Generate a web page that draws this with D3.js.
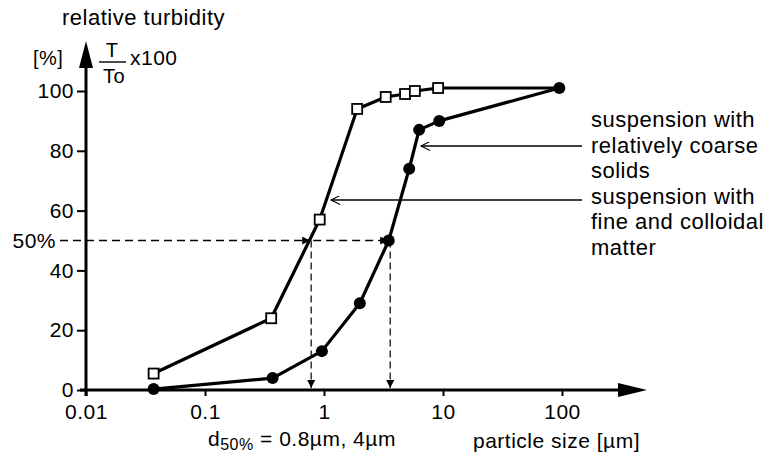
<!DOCTYPE html>
<html>
<head>
<meta charset="utf-8">
<script src="https://cdn.jsdelivr.net/npm/d3@7"></script>
<style>
  body { margin: 0; background: #fff; }
  svg { display: block; font-family: "Liberation Sans", Arial, Helvetica, sans-serif; }
  text { fill: #000; letter-spacing: 0.5px; }
</style>
</head>
<body>
<svg width="771" height="457"></svg>
<script>
// particle size [um] -> relative turbidity [%]
var fineSize = [0.037, 0.36, 0.92, 1.9, 3.3, 4.8, 5.8, 9.1, 95];
var fineTurb = [5.5, 24, 57, 94, 98, 99, 100, 101, 101];

var coarseSize = [0.037, 0.37, 0.96, 2.0, 3.5, 5.2, 6.3, 9.3, 95];
var coarseTurb = [0.3, 4, 13, 29, 50, 74, 87, 90, 101];

var xTicks = [0.01, 0.1, 1, 10, 100];
var xTickLabels = ["0.01", "0.1", "1", "10", "100"];
var yTicks = [0, 20, 40, 60, 80, 100];

var d50Level = 50;
var d50Sizes = [0.78, 3.6];

var svg = d3.select("svg");

var x = d3.scaleLog()
    .domain([0.01, 100])
    .range([86, 562]);

var y = d3.scaleLinear()
    .domain([0, 100])
    .range([390, 91]);

var defs = svg.append("defs");
defs.append("marker")
    .attr("id", "headFill")
    .attr("viewBox", "0 0 10 10")
    .attr("refX", 10).attr("refY", 5)
    .attr("markerWidth", 12).attr("markerHeight", 8)
    .attr("markerUnits", "userSpaceOnUse")
    .attr("orient", "auto")
  .append("path")
    .attr("d", "M0,0L10,5L0,10Z")
    .attr("fill", "#000");
defs.append("marker")
    .attr("id", "headOpen")
    .attr("viewBox", "0 0 10 10")
    .attr("refX", 10).attr("refY", 5)
    .attr("markerWidth", 16).attr("markerHeight", 9)
    .attr("markerUnits", "userSpaceOnUse")
    .attr("orient", "auto")
  .append("path")
    .attr("d", "M0,0L10,5L0,10")
    .attr("fill", "none")
    .attr("stroke", "#000")
    .attr("stroke-width", 1.2);

// axes
var xAxis = svg.append("g")
    .attr("transform", "translate(0," + y(0) + ")")
    .call(d3.axisBottom(x)
      .tickValues(xTicks)
      .tickSize(6)
      .tickPadding(8)
      .tickFormat(function(d, i) { return xTickLabels[i]; }));
xAxis.select(".domain").remove();
xAxis.selectAll("line").attr("stroke-width", 2);
xAxis.selectAll("text")
    .attr("font-size", 21)
    .attr("font-family", "Liberation Sans, Arial, sans-serif");

var yAxis = svg.append("g")
    .attr("transform", "translate(" + x(0.01) + ",0)")
    .call(d3.axisLeft(y)
      .tickValues(yTicks)
      .tickSize(9)
      .tickPadding(3));
yAxis.select(".domain").remove();
yAxis.selectAll("line").attr("stroke-width", 2);
yAxis.selectAll("text")
    .attr("font-size", 21)
    .attr("font-family", "Liberation Sans, Arial, sans-serif");

// axis lines with arrow tips
svg.append("line")
    .attr("x1", x(0.01) - 6).attr("x2", 622)
    .attr("y1", y(0)).attr("y2", y(0))
    .attr("stroke", "#000").attr("stroke-width", 3);
svg.append("path")
    .attr("d", "M618," + (y(0) - 7) + "L647," + y(0) + "L618," + (y(0) + 7) + "Z")
    .attr("fill", "#000");

svg.append("line")
    .attr("x1", x(0.01)).attr("x2", x(0.01))
    .attr("y1", y(0) + 6).attr("y2", 66)
    .attr("stroke", "#000").attr("stroke-width", 3);
svg.append("path")
    .attr("d", "M" + (x(0.01) - 7) + ",68L" + x(0.01) + ",41L" + (x(0.01) + 7) + ",68Z")
    .attr("fill", "#000");

// d50 guide lines
svg.append("text")
    .attr("x", 56).attr("y", y(d50Level))
    .attr("dy", "0.35em")
    .attr("text-anchor", "end")
    .attr("font-size", 21)
    .text("50%");

svg.append("line")
    .attr("x1", 60).attr("x2", x(d50Sizes[0]) - 1)
    .attr("y1", y(d50Level)).attr("y2", y(d50Level))
    .attr("stroke", "#000").attr("stroke-width", 1.4)
    .attr("stroke-dasharray", "8,5")
    .attr("marker-end", "url(#headFill)");
svg.append("line")
    .attr("x1", x(d50Sizes[0]) + 2).attr("x2", x(d50Sizes[1]) - 2)
    .attr("y1", y(d50Level)).attr("y2", y(d50Level))
    .attr("stroke", "#000").attr("stroke-width", 1.4)
    .attr("stroke-dasharray", "8,5")
    .attr("marker-end", "url(#headFill)");

svg.selectAll(".drop")
  .data(d50Sizes)
  .enter().append("line")
    .attr("class", "drop")
    .attr("x1", function(d) { return x(d); })
    .attr("x2", function(d) { return x(d); })
    .attr("y1", y(d50Level))
    .attr("y2", y(0) - 2)
    .attr("stroke", "#000").attr("stroke-width", 1.2)
    .attr("stroke-dasharray", "7,4")
    .attr("marker-end", "url(#headFill)");

// curves
var line = d3.line()
    .x(function(d) { return x(d[0]); })
    .y(function(d) { return y(d[1]); });

var fine = d3.zip(fineSize, fineTurb);
var coarse = d3.zip(coarseSize, coarseTurb);

svg.append("path")
    .datum(fine)
    .attr("d", line)
    .attr("fill", "none")
    .attr("stroke", "#000")
    .attr("stroke-width", 3.2)
    .attr("stroke-linejoin", "round");

svg.append("path")
    .datum(coarse)
    .attr("d", line)
    .attr("fill", "none")
    .attr("stroke", "#000")
    .attr("stroke-width", 3.2)
    .attr("stroke-linejoin", "round");

svg.selectAll(".sq")
  .data(fine.slice(0, fine.length - 1))
  .enter().append("rect")
    .attr("class", "sq")
    .attr("x", function(d) { return x(d[0]) - 5; })
    .attr("y", function(d) { return y(d[1]) - 5; })
    .attr("width", 10)
    .attr("height", 10)
    .attr("fill", "#fff")
    .attr("stroke", "#000")
    .attr("stroke-width", 1.8);

svg.selectAll(".dot")
  .data(coarse)
  .enter().append("circle")
    .attr("class", "dot")
    .attr("cx", function(d) { return x(d[0]); })
    .attr("cy", function(d) { return y(d[1]); })
    .attr("r", 6)
    .attr("fill", "#000");

// annotations
svg.append("line")
    .attr("x1", 582).attr("x2", 421)
    .attr("y1", 146).attr("y2", 146)
    .attr("stroke", "#000").attr("stroke-width", 1.6)
    .attr("marker-end", "url(#headOpen)");
svg.append("line")
    .attr("x1", 582).attr("x2", 331)
    .attr("y1", 200).attr("y2", 200)
    .attr("stroke", "#000").attr("stroke-width", 1.6)
    .attr("marker-end", "url(#headOpen)");

var notes = ["suspension with", "relatively coarse", "solids",
             "suspension with", "fine and colloidal", "matter"];
svg.append("text")
    .attr("font-size", 22)
    .selectAll("tspan")
  .data(notes)
  .enter().append("tspan")
    .attr("x", 591)
    .attr("y", function(d, i) { return 127 + i * 25.6; })
    .text(function(d) { return d; });

// titles
svg.append("text")
    .attr("x", 62).attr("y", 25)
    .attr("font-size", 22)
    .text("relative turbidity");

svg.append("text")
    .attr("x", 33).attr("y", 65)
    .attr("font-size", 20)
    .text("[%]");

svg.append("text")
    .attr("x", 112).attr("y", 57)
    .attr("text-anchor", "middle")
    .attr("font-size", 20)
    .text("T");
svg.append("line")
    .attr("x1", 99).attr("x2", 126)
    .attr("y1", 62).attr("y2", 62)
    .attr("stroke", "#000").attr("stroke-width", 1.4);
svg.append("text")
    .attr("x", 114).attr("y", 83)
    .attr("text-anchor", "middle")
    .attr("font-size", 20)
    .text("To");
svg.append("text")
    .attr("x", 130).attr("y", 65)
    .attr("font-size", 21)
    .text("x100");

var d50 = svg.append("text")
    .attr("x", 208).attr("y", 446)
    .attr("font-size", 21);
d50.append("tspan").text("d");
d50.append("tspan").attr("font-size", 16).attr("dy", 4).text("50%");
d50.append("tspan").attr("dy", -4).text(" = 0.8\u00b5m, 4\u00b5m");

svg.append("text")
    .attr("x", 473).attr("y", 448)
    .attr("font-size", 21)
    .text("particle size [\u00b5m]");
</script>
</body>
</html>
